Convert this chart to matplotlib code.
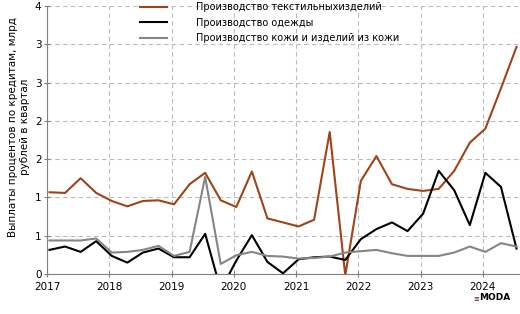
import numpy as np
import matplotlib
matplotlib.use('Agg')
import matplotlib.pyplot as plt

# Квартальные данные, 2017 Q1 - 2024 Q3 (млрд руб.)
start_year = 2017.04
textile = [1.22, 1.21, 1.43, 1.21, 1.09, 1.01, 1.09, 1.10, 1.04, 1.34,
           1.51, 1.10, 1.00, 1.53, 0.83, 0.77, 0.71, 0.81, 2.12, -0.02,
           1.39, 1.76, 1.34, 1.27, 1.24, 1.27, 1.54, 1.96, 2.17, 2.77, 3.39]
clothing = [0.36, 0.41, 0.33, 0.49, 0.27, 0.17, 0.32, 0.38, 0.25, 0.25,
            0.60, -0.24, 0.20, 0.58, 0.18, 0.01, 0.22, 0.25, 0.26, 0.21,
            0.52, 0.67, 0.77, 0.64, 0.90, 1.54, 1.25, 0.73, 1.51, 1.30, 0.38]
leather = [0.50, 0.50, 0.50, 0.53, 0.32, 0.33, 0.36, 0.42, 0.27, 0.33,
           1.45, 0.15, 0.28, 0.33, 0.27, 0.26, 0.23, 0.24, 0.26, 0.32,
           0.34, 0.36, 0.31, 0.27, 0.27, 0.27, 0.32, 0.41, 0.33, 0.46, 0.41]
labels = ['Производство текстильныхизделий',
          'Производство одежды',
          'Производство кожи и изделий из кожи']
years = list(range(2017, 2025))

x = start_year + 0.25 * np.arange(len(textile))

fig = plt.figure(figsize=(5.2, 3.14), dpi=100)
ax = fig.add_axes([47 / 520, 40 / 314, 472 / 520, 268 / 314])

ax.plot(x, textile, color='#9E4418', lw=1.5, label=labels[0])
ax.plot(x, clothing, color='black', lw=1.5, label=labels[1])
ax.plot(x, leather, color='#858585', lw=1.5, label=labels[2])

ax.set_xlim(2017, 2024.58)
ax.set_ylim(0, 4)
yt = np.linspace(0, 4, 8)
ax.set_yticks(yt)
ax.set_yticklabels(['%.0f' % v for v in yt])
ax.set_xticks(years)
ax.set_xticklabels([str(y) for y in years])

ax.grid(True, color='#BBBBBB', linestyle=(0, (4, 3)), lw=0.8)
ax.set_axisbelow(True)
for s in ['top', 'right']:
    ax.spines[s].set_visible(False)
for s in ['left', 'bottom']:
    ax.spines[s].set_color('#808080')
ax.tick_params(axis='both', colors='#808080', labelcolor='black',
               labelsize=7.5, length=4, direction='inout')
ax.tick_params(axis='y', pad=2)

fig.text(19 / 520, 0.595, 'Выплаты процентов по кредитам, млрд\nрублей в квартал',
         rotation=90, ha='center', va='center', fontsize=7.5, linespacing=1.35)

ax.legend(loc='upper left', bbox_to_anchor=(140 / 520, 1 - 2.5 / 314),
          bbox_transform=fig.transFigure, frameon=False, fontsize=7,
          handlelength=2.8, handletextpad=3.0, labelspacing=0.55,
          borderpad=0, borderaxespad=0)

fig.text(476 / 520, 1 - 298 / 314, '≡', color='#7A1F2B', fontsize=5,
         ha='center', va='center', fontweight='bold')
fig.text(479 / 520, 1 - 298 / 314, 'MODA', color='black', fontsize=6.5,
         ha='left', va='center', fontweight='bold')

fig.savefig('out.png', dpi=100)
